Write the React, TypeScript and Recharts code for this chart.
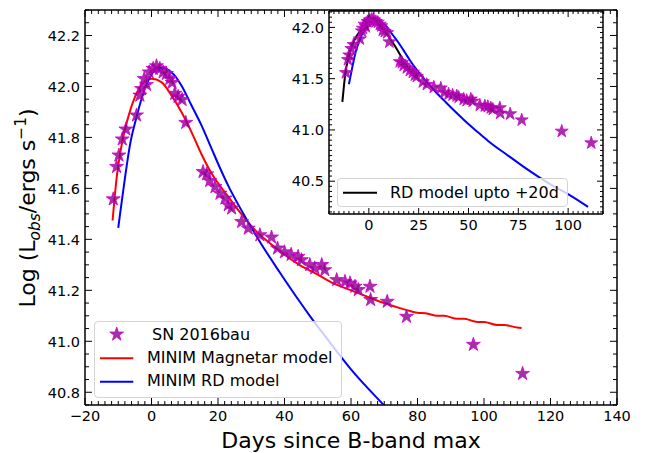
import React from 'react';
import { ComposedChart, Line, Scatter, XAxis, YAxis, ZAxis, CartesianGrid, Symbols } from 'recharts';

const FONT = '"DejaVu Sans", Verdana, sans-serif';

// SN 2016bau observed bolometric light curve
const snDays = [-11.5, -10.5, -9.8, -8.8, -7.7, -4.5, -3.5, -3.0, -2.2, -1.5, -0.7, 0.5, 1.5, 2.5, 3.5, 4.5, 5.5, 6.2, 7.0, 8.0, 9.2, 10.3, 15.5, 16.6, 17.5, 19.1, 20.6, 22.1, 23.1, 24.1, 27.1, 29.1, 32.6, 36.1, 37.9, 40.0, 42.0, 44.1, 45.1, 47.6, 49.1, 51.2, 52.1, 55.7, 58.2, 59.7, 61.2, 62.2, 65.7, 65.9, 70.9, 76.7, 96.8, 111.6];
const snLogL = [41.558, 41.685, 41.73, 41.793, 41.832, 41.887, 41.965, 41.991, 42.03, 42.007, 42.056, 42.07, 42.08, 42.07, 42.056, 42.05, 42.03, 42.015, 41.972, 41.96, 41.948, 41.858, 41.665, 41.656, 41.63, 41.606, 41.58, 41.561, 41.535, 41.522, 41.469, 41.443, 41.417, 41.408, 41.365, 41.35, 41.34, 41.332, 41.319, 41.3, 41.287, 41.3, 41.28, 41.241, 41.234, 41.228, 41.215, 41.202, 41.215, 41.163, 41.156, 41.097, 40.987, 40.873];

// MINIM magnetar model
const magDays = [-11.7, -10.5, -9.0, -7.0, -5.0, -2.5, 0.0, 3.0, 6.0, 9.0, 12.0, 15.0, 18.0, 23.1, 27.0, 31.1, 38.1, 44.6, 50.0, 54.6, 60.0, 64.7, 70.0, 74.7, 78.0, 80.0, 82.5, 86.0, 88.0, 92.0, 94.0, 98.0, 100.0, 104.0, 106.0, 110.0, 111.3];
const magLogL = [41.474, 41.639, 41.769, 41.88, 41.958, 42.015, 42.03, 42.017, 41.965, 41.9, 41.822, 41.735, 41.66, 41.567, 41.5, 41.437, 41.359, 41.299, 41.262, 41.228, 41.2, 41.176, 41.15, 41.13, 41.118, 41.112, 41.11, 41.1, 41.1, 41.088, 41.088, 41.076, 41.076, 41.064, 41.064, 41.054, 41.052];

// MINIM RD model
const rdDays = [-10.0, -9.5, -8.0, -6.5, -4.5, -2.0, 0.5, 3.0, 6.0, 9.0, 12.0, 15.0, 18.1, 20.6, 23.1, 25.6, 28.1, 31.0, 33.1, 38.6, 44.6, 47.6, 53.7, 60.0, 70.2, 77.0, 84.2, 92.0, 100.8, 110.0];
const rdLogL = [41.445, 41.495, 41.639, 41.769, 41.88, 41.991, 42.056, 42.072, 42.056, 42.004, 41.926, 41.848, 41.755, 41.68, 41.61, 41.548, 41.49, 41.425, 41.38, 41.27, 41.155, 41.1, 40.995, 40.89, 40.745, 40.65, 40.555, 40.46, 40.365, 40.25];

// RD model fitted up to +20d (inset)
const rd20Days = [-13.3, -12.5, -11.7, -10.5, -8.3, -6.0, -3.3, -1.0, 1.0, 4.0, 6.7, 9.0, 11.7, 14.0, 16.7, 19.0, 22.0];
const rd20LogL = [41.273, 41.43, 41.567, 41.68, 41.83, 41.92, 41.99, 42.04, 42.055, 42.035, 41.99, 41.935, 41.86, 41.79, 41.7, 41.625, 41.55];

const mainXMajor = [-20, 0, 20, 40, 60, 80, 100, 120, 140];
const mainYMajor = [40.8, 41.0, 41.2, 41.4, 41.6, 41.8, 42.0, 42.2];
const insetXMajor = [0, 25, 50, 75, 100];
const insetYMajor = [40.5, 41.0, 41.5, 42.0];

const legendMain = ['SN 2016bau', 'MINIM Magnetar model', 'MINIM RD model'];
const legendInset = 'RD model upto +20d';
const xTitle = 'Days since B-band max';

const pairs = (xs: number[], ys: number[]) => xs.map((x, i) => ({ x, y: ys[i] }));
const snData = pairs(snDays, snLogL);
const magData = pairs(magDays, magLogL);
const rdData = pairs(rdDays, rdLogL);
const rd20Data = pairs(rd20Days, rd20LogL);

const steps = (start: number, stop: number, step: number) => {
  const out: number[] = [];
  for (let k = 0; start + k * step <= stop + 1e-9; k++) out.push(Math.round((start + k * step) * 1000) / 1000);
  return out;
};

const mainXTicks = steps(-20, 140, 2);
const mainYTicks = steps(40.75, 42.3, 0.05);
const insetXTicks = steps(-20, 117.5, 2.5);
const insetYTicks = steps(40.2, 42.15, 0.05);

const fmtX = (v: number) => (v < 0 ? '\u2212' + Math.abs(v) : String(v));
const fmtY = (v: number) => v.toFixed(1);

type Side = 'bottom' | 'top' | 'left' | 'right';
const makeTick = (side: Side, majors: number[], fmt: ((v: number) => string) | null, majorLen: number, minorLen: number, fs: number) =>
  (props: any) => {
    const { x, y, payload } = props;
    const v = payload.value;
    const major = majors.some((m) => Math.abs(m - v) < 1e-6);
    const len = major ? majorLen : minorLen;
    let x2 = x;
    let y2 = y;
    if (side === 'bottom') y2 = y - len;
    if (side === 'top') y2 = y + len;
    if (side === 'left') x2 = x + len;
    if (side === 'right') x2 = x - len;
    let label: any = null;
    if (fmt && major) {
      if (side === 'bottom') {
        label = (
          <text x={x} y={y + 5 + fs * 0.73} textAnchor="middle" fontSize={fs} fontFamily={FONT} fill="#000">
            {fmt(v)}
          </text>
        );
      } else if (side === 'left') {
        label = (
          <text x={x - 5} y={y + fs * 0.365} textAnchor="end" fontSize={fs} fontFamily={FONT} fill="#000">
            {fmt(v)}
          </text>
        );
      }
    }
    return (
      <g>
        <line x1={x} y1={y} x2={x2} y2={y2} stroke="#000" strokeWidth={1} />
        {label}
      </g>
    );
  };

const axisStyle = { stroke: '#000', strokeWidth: 1.5 };
const starFill = '#8b008b';
const starStroke = '#cc00cc';

export default function App() {
  return (
    <div style={{ position: 'absolute', left: 0, top: 0, width: 654, height: 453, background: '#fff', fontFamily: FONT }}>
      {/* Main chart */}
      <div style={{ position: 'absolute', left: 0, top: 0 }}>
        <ComposedChart width={654} height={453} margin={{ top: 9, right: 36, bottom: 18, left: 25 }}>
          <XAxis xAxisId={0} dataKey="x" type="number" domain={[-20, 140]} allowDataOverflow ticks={mainXTicks} interval={0}
            tickSize={0} tickMargin={0} tickLine={false} tick={makeTick('bottom', mainXMajor, fmtX, 7, 4, 14.5)} axisLine={axisStyle} height={30} />
          <XAxis xAxisId="top" dataKey="x" orientation="top" type="number" domain={[-20, 140]} allowDataOverflow ticks={mainXTicks} interval={0}
            tickSize={0} tickMargin={0} tickLine={false} tick={makeTick('top', mainXMajor, null, 7, 4, 14.5)} axisLine={axisStyle} height={1} />
          <YAxis yAxisId={0} dataKey="y" type="number" domain={[40.75, 42.3]} allowDataOverflow ticks={mainYTicks} interval={0}
            tickSize={0} tickMargin={0} tickLine={false} tick={makeTick('left', mainYMajor, fmtY, 7, 4, 14.5)} axisLine={axisStyle} width={60} />
          <YAxis yAxisId="right" dataKey="y" orientation="right" type="number" domain={[40.75, 42.3]} allowDataOverflow ticks={mainYTicks} interval={0}
            tickSize={0} tickMargin={0} tickLine={false} tick={makeTick('right', mainYMajor, null, 7, 4, 14.5)} axisLine={axisStyle} width={1} />
          <ZAxis type="number" range={[60, 60]} />
          <Line xAxisId="top" yAxisId="right" data={magData} dataKey="y" type="monotone" stroke="none" strokeWidth={0} dot={false} isAnimationActive={false} legendType="none" />
          <Line data={magData} dataKey="y" type="monotone" stroke="#ff0000" strokeWidth={2} dot={false} isAnimationActive={false} />
          <Line data={rdData} dataKey="y" type="monotone" stroke="#0000ff" strokeWidth={2} dot={false} isAnimationActive={false} />
          <Scatter data={snData} dataKey="y" shape="star" fill={starFill} fillOpacity={0.8} stroke={starStroke} strokeOpacity={0.8} strokeWidth={1} isAnimationActive={false} />
        </ComposedChart>
      </div>

      {/* Inset chart */}
      <div style={{ position: 'absolute', left: 289, top: 0 }}>
        <ComposedChart width={330} height={240} margin={{ top: 10, right: 15, bottom: 0, left: 0 }}>
          <CartesianGrid fill="#fff" fillOpacity={1} horizontal={false} vertical={false} />
          <XAxis xAxisId={0} dataKey="x" type="number" domain={[-20, 117.5]} allowDataOverflow ticks={insetXTicks} interval={0}
            tickSize={0} tickMargin={0} tickLine={false} tick={makeTick('bottom', insetXMajor, fmtX, 6, 3, 14.5)} axisLine={axisStyle} height={26} />
          <XAxis xAxisId="top" dataKey="x" orientation="top" type="number" domain={[-20, 117.5]} allowDataOverflow ticks={insetXTicks} interval={0}
            tickSize={0} tickMargin={0} tickLine={false} tick={makeTick('top', insetXMajor, null, 6, 3, 14.5)} axisLine={axisStyle} height={1} />
          <YAxis yAxisId={0} dataKey="y" type="number" domain={[40.18, 42.16]} allowDataOverflow ticks={insetYTicks} interval={0}
            tickSize={0} tickMargin={0} tickLine={false} tick={makeTick('left', insetYMajor, fmtY, 6, 3, 14.5)} axisLine={axisStyle} width={40} />
          <YAxis yAxisId="right" dataKey="y" orientation="right" type="number" domain={[40.18, 42.16]} allowDataOverflow ticks={insetYTicks} interval={0}
            tickSize={0} tickMargin={0} tickLine={false} tick={makeTick('right', insetYMajor, null, 6, 3, 14.5)} axisLine={axisStyle} width={1} />
          <ZAxis type="number" range={[52, 52]} />
          <Line xAxisId="top" yAxisId="right" data={rdData} dataKey="y" type="monotone" stroke="none" strokeWidth={0} dot={false} isAnimationActive={false} legendType="none" />
          <Scatter data={snData} dataKey="y" shape="star" fill={starFill} fillOpacity={0.8} stroke={starStroke} strokeOpacity={0.8} strokeWidth={1} isAnimationActive={false} />
          <Line data={rdData} dataKey="y" type="monotone" stroke="#0000ff" strokeWidth={2} dot={false} isAnimationActive={false} />
          <Line data={rd20Data} dataKey="y" type="monotone" stroke="#000000" strokeWidth={2} dot={false} isAnimationActive={false} />
        </ComposedChart>
      </div>

      {/* Inset legend */}
      <div style={{ position: 'absolute', left: 337, top: 178, width: 231, height: 29, boxSizing: 'border-box', border: '1px solid #d4d4d4', borderRadius: 4, background: 'rgba(255,255,255,0.8)' }}>
        <svg width={231} height={29} style={{ position: 'absolute', left: -1, top: -1 }}>
          <line x1={6} y1={14.7} x2={40} y2={14.7} stroke="#000" strokeWidth={2} />
        </svg>
        <div style={{ position: 'absolute', left: 52, top: 5, fontSize: 16, lineHeight: '18px', color: '#000', whiteSpace: 'nowrap' }}>{legendInset}</div>
      </div>

      {/* Main legend */}
      <div style={{ position: 'absolute', left: 94, top: 321, width: 248, height: 77, boxSizing: 'border-box', border: '1px solid #d4d4d4', borderRadius: 4, background: 'rgba(255,255,255,0.8)' }}>
        <svg width={248} height={77} style={{ position: 'absolute', left: -1, top: -1 }}>
          <Symbols cx={22.7} cy={13.3} type="star" size={60} fill={starFill} fillOpacity={0.8} stroke={starStroke} strokeOpacity={0.8} strokeWidth={1} />
          <line x1={6} y1={37.3} x2={39.3} y2={37.3} stroke="#ff0000" strokeWidth={2} />
          <line x1={6} y1={60.7} x2={39.3} y2={60.7} stroke="#0000ff" strokeWidth={2} />
        </svg>
        <div style={{ position: 'absolute', left: 57, top: 4, fontSize: 16, lineHeight: '18px', color: '#000', whiteSpace: 'nowrap' }}>{legendMain[0]}</div>
        <div style={{ position: 'absolute', left: 52, top: 27, fontSize: 16, lineHeight: '18px', color: '#000', whiteSpace: 'nowrap' }}>{legendMain[1]}</div>
        <div style={{ position: 'absolute', left: 52, top: 50, fontSize: 16, lineHeight: '18px', color: '#000', whiteSpace: 'nowrap' }}>{legendMain[2]}</div>
      </div>

      {/* Axis titles */}
      <div style={{ position: 'absolute', left: 351, top: 441, transform: 'translate(-50%, -50%)', fontSize: 22, lineHeight: '24px', whiteSpace: 'nowrap', color: '#000' }}>
        {xTitle}
      </div>
      <div style={{ position: 'absolute', left: 28, top: 207.5, transform: 'translate(-50%, -50%) rotate(-90deg)', fontSize: 22, lineHeight: '24px', whiteSpace: 'nowrap', color: '#000' }}>
        Log (L<span style={{ fontSize: '0.7em', fontStyle: 'italic', verticalAlign: '-0.3em' }}>obs</span>/ergs s<span style={{ fontSize: '0.7em', verticalAlign: '0.55em' }}>{'\u22121'}</span>)
      </div>
    </div>
  );
}
